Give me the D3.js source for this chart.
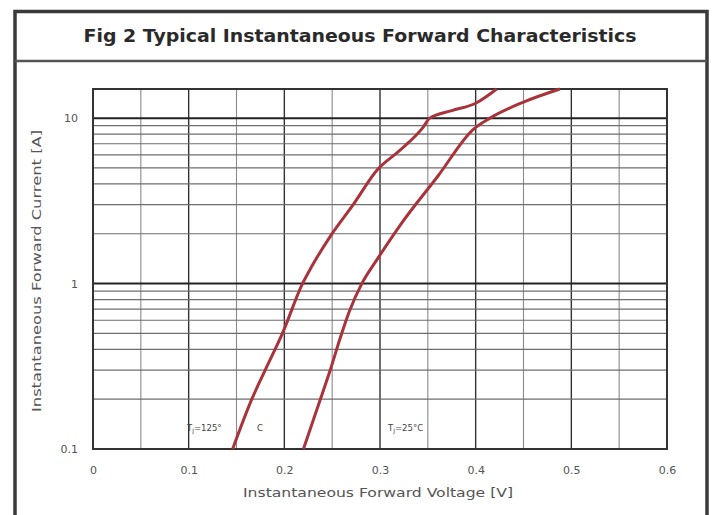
<!DOCTYPE html>
<html>
<head>
<meta charset="utf-8">
<script src="https://cdn.jsdelivr.net/npm/d3@7"></script>
<style>
  html, body { margin: 0; padding: 0; background: #fff; }
  svg { display: block; }
  text { font-family: "DejaVu Sans", sans-serif; }
</style>
</head>
<body>
<svg id="chart" width="712" height="515"></svg>
<script>
// ---- data ----
const title = "Fig 2 Typical Instantaneous Forward Characteristics";
const xLabel = "Instantaneous Forward Voltage [V]";
const yLabel = "Instantaneous Forward Current [A]";
const xTicks = [0, 0.1, 0.2, 0.3, 0.4, 0.5, 0.6];
const yTicks = [0.1, 1, 10];
// Tj = 125 °C curve
const v125 = [0.146, 0.166, 0.180, 0.198, 0.219, 0.228, 0.248, 0.272, 0.297, 0.321, 0.345, 0.352, 0.375, 0.400, 0.422];
const i125 = [0.10, 0.20, 0.30, 0.50, 1.00, 1.25, 1.93, 3.0, 4.86, 6.4, 8.8, 10.0, 11.1, 12.3, 15.0];
// Tj = 25 °C curve
const v25 = [0.220, 0.235, 0.248, 0.259, 0.268, 0.281, 0.297, 0.321, 0.361, 0.397, 0.415, 0.450, 0.488];
const i25 = [0.10, 0.18, 0.30, 0.48, 0.68, 1.00, 1.40, 2.25, 4.5, 8.5, 10.0, 12.5, 15.0];

// ---- layout ----
const svg = d3.select("#chart");
const L = 93, R = 667, T = 89, B = 449;

const x = d3.scaleLinear().domain([0, 0.6]).range([L, R]);
const y = d3.scaleLog().domain([0.1, 15]).range([B, T]);

// outer frame
svg.append("rect").attr("x", 15).attr("y", 11.5).attr("width", 692).attr("height", 515)
  .attr("fill", "none").attr("stroke", "#3a3a3a").attr("stroke-width", 3.5);
svg.append("line").attr("x1", 15).attr("x2", 707).attr("y1", 61).attr("y2", 61)
  .attr("stroke", "#555").attr("stroke-width", 2.5);

// title
svg.append("text").attr("x", 360).attr("y", 42).attr("text-anchor", "middle")
  .attr("font-size", 18).attr("font-weight", "bold").attr("fill", "#2a2a2a")
  .attr("textLength", 553).attr("lengthAdjust", "spacingAndGlyphs")
  .text(title);

// vertical grid (every 0.05)
const xGrid = d3.range(0, 13).map(k => k * 0.05);
svg.append("g").selectAll("line").data(xGrid).join("line")
  .attr("x1", d => x(d)).attr("x2", d => x(d)).attr("y1", T).attr("y2", B)
  .attr("stroke", (d, i) => i % 2 === 0 ? "#333" : "#8a8a8a")
  .attr("stroke-width", (d, i) => i % 2 === 0 ? 1.4 : 1.1);

// horizontal grid (log minors + decades)
const yMinor = [];
[0.1, 1, 10].forEach(dec => { for (let m = 2; m <= 9; m++) { const v = dec * m; if (v <= 15) yMinor.push(v); } });
svg.append("g").selectAll("line").data(yMinor).join("line")
  .attr("x1", L).attr("x2", R).attr("y1", d => y(d)).attr("y2", d => y(d))
  .attr("stroke", "#6e6e6e").attr("stroke-width", 1.2);
svg.append("g").selectAll("line").data(yTicks).join("line")
  .attr("x1", L).attr("x2", R).attr("y1", d => y(d)).attr("y2", d => y(d))
  .attr("stroke", "#222").attr("stroke-width", 2);

// plot border
svg.append("rect").attr("x", L).attr("y", T).attr("width", R - L).attr("height", B - T)
  .attr("fill", "none").attr("stroke", "#333").attr("stroke-width", 2);

// axes labels via d3 axes
const xAxis = d3.axisBottom(x).tickValues(xTicks).tickSize(0).tickPadding(0)
  .tickFormat(d => d === 0 ? "0" : d3.format(".1f")(d));
const gx = svg.append("g").attr("transform", `translate(0,${B + 17})`).call(xAxis);
gx.select(".domain").remove();
gx.selectAll("text").attr("font-size", 11).attr("fill", "#555").attr("font-family", "DejaVu Sans, sans-serif");

const yAxis = d3.axisLeft(y).tickValues(yTicks).tickSize(0).tickPadding(0)
  .tickFormat(d => d >= 1 ? d3.format("d")(d) : "0.1");
const gy = svg.append("g").attr("transform", `translate(${L - 15},0)`).call(yAxis);
gy.select(".domain").remove();
gy.selectAll("text").attr("font-size", 11).attr("fill", "#555").attr("font-family", "DejaVu Sans, sans-serif");

// axis titles
svg.append("text").attr("x", 378).attr("y", 497).attr("text-anchor", "middle")
  .attr("font-size", 12).attr("fill", "#555")
  .attr("textLength", 270).attr("lengthAdjust", "spacingAndGlyphs").text(xLabel);
svg.append("text").attr("transform", "translate(41,271) rotate(-90)").attr("text-anchor", "middle")
  .attr("font-size", 12).attr("fill", "#555")
  .attr("textLength", 282).attr("lengthAdjust", "spacingAndGlyphs").text(yLabel);

// curves
const line = d3.line().x(d => x(d[0])).y(d => y(d[1])).curve(d3.curveMonotoneX);
const plot = svg.append("g");
[[v125, i125], [v25, i25]].forEach(([vs, is]) => {
  plot.append("path").datum(vs.map((v, k) => [v, is[k]]))
    .attr("d", line).attr("fill", "none")
    .attr("stroke", "#a8333b").attr("stroke-width", 3).attr("stroke-linejoin", "round");
});

// annotations
const ann = svg.append("g").attr("font-size", 8.5).attr("fill", "#444");
const t1 = ann.append("text").attr("x", 187).attr("y", 431);
t1.append("tspan").text("T");
t1.append("tspan").attr("font-size", 6).attr("dy", 2).text("J");
t1.append("tspan").attr("dy", -2).text("=125°");
ann.append("text").attr("x", 257).attr("y", 431).text("C");
const t2 = ann.append("text").attr("x", 388).attr("y", 431);
t2.append("tspan").text("T");
t2.append("tspan").attr("font-size", 6).attr("dy", 2).text("J");
t2.append("tspan").attr("dy", -2).text("=25°C");
</script>
</body>
</html>
